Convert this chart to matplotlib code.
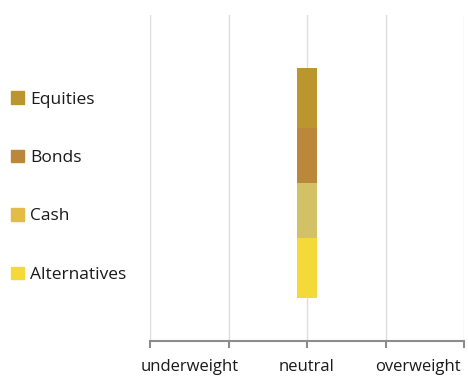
import matplotlib
matplotlib.use("Agg")
import matplotlib.pyplot as plt
from matplotlib.patches import Patch

plt.rcParams['font.family'] = ['Open Sans', 'DejaVu Sans']

# asset classes, bottom to top of the stacked bar
assets = ["Alternatives", "Cash", "Bonds", "Equities"]
shares = [1.04, 0.95, 0.96, 1.04]
bar_colors = ["#F3DA38", "#D3C265", "#BB883B", "#BB962E"]
legend_colors = ["#F3DA38", "#E2BB48", "#BB883B", "#BB962E"]
position = 0  # neutral

scale_ticks = [-2, -1, 0, 1, 2]
scale_labels = ["underweight", "neutral", "overweight"]
scale_label_pos = [-1.5, 0, 1.41]

fig = plt.figure(figsize=(4.68, 3.78), dpi=100)
ax = fig.add_axes([150 / 468, 37 / 378, 314 / 468, 326 / 378])

bottom = 0
for name, h, c in zip(assets, shares, bar_colors):
    ax.bar(position, h, bottom=bottom, width=0.25, color=c, zorder=3)
    bottom += h

ax.set_xlim(-2, 2)
ax.set_ylim(-0.745, 4.9)
ax.set_xticks(scale_ticks)
ax.set_xticklabels([])
ax.tick_params(axis="x", which="major", direction="out", length=5, width=1.5, color="#8c8c8c")
for x, lab in zip(scale_label_pos, scale_labels):
    ax.text(x, -0.08, lab, transform=ax.get_xaxis_transform(), ha="center", va="center",
            fontsize=12, color="#1a1a1a")
ax.set_yticks([])
ax.grid(axis="x", which="major", color="#dddddd", linewidth=1, zorder=0)
for s in ["top", "right", "left"]:
    ax.spines[s].set_visible(False)
ax.spines["bottom"].set_color("#8c8c8c")
ax.spines["bottom"].set_linewidth(1.5)

handles = [Patch(color=c, label=n) for n, c in zip(assets, legend_colors)][::-1]
fig.legend(handles=handles, loc="upper left", bbox_to_anchor=(-0.01, 0.8),
           frameon=False, fontsize=12.5, labelspacing=2.42, handlelength=0.75,
           handleheight=0.75, handletextpad=0.35, labelcolor="#1a1a1a")

fig.savefig("out.png", dpi=100, facecolor="white")
